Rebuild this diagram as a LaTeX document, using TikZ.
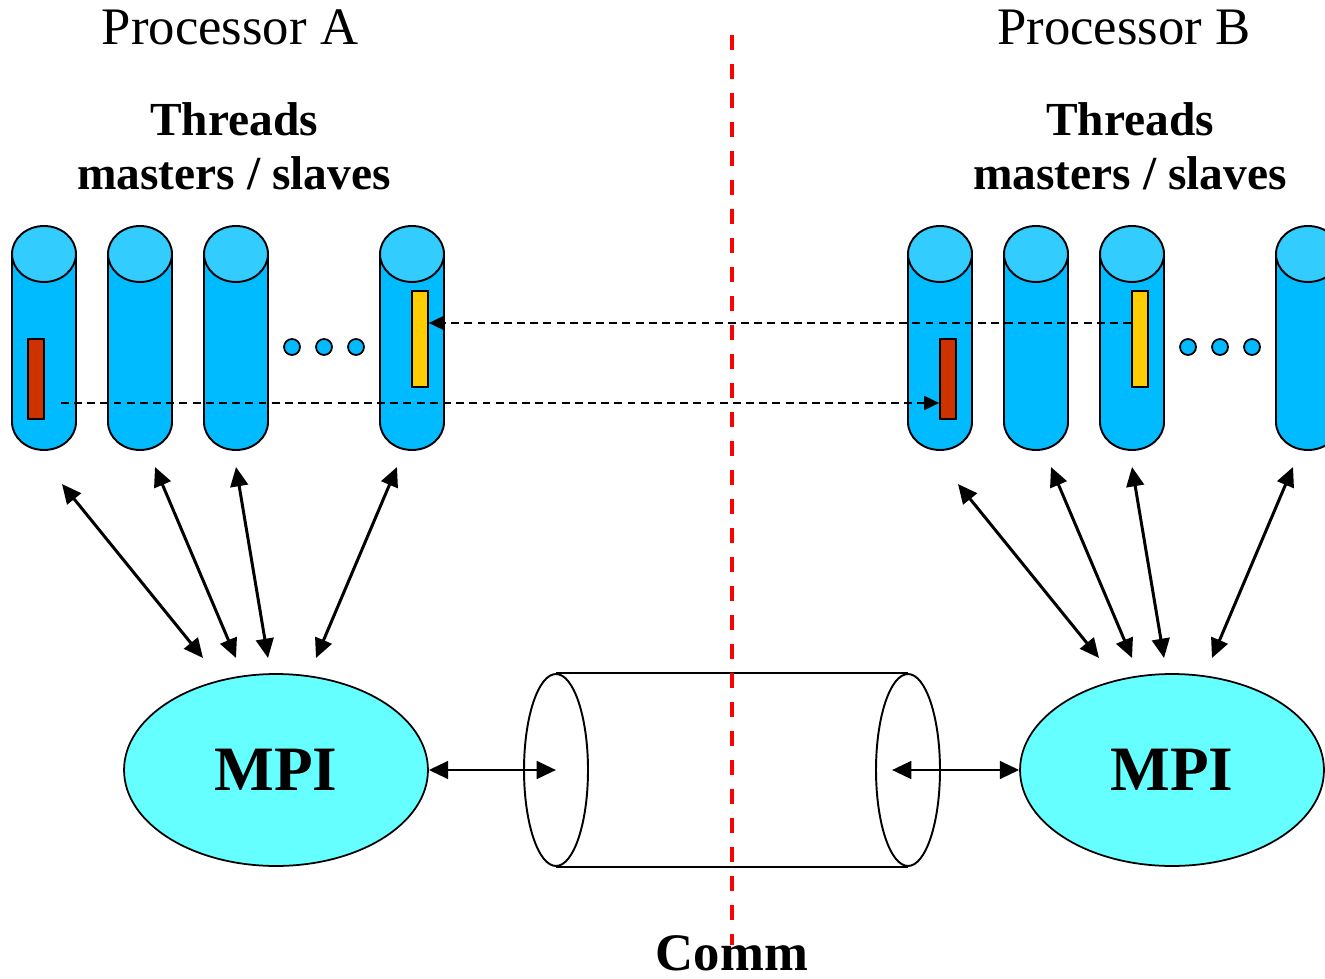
\documentclass[tikz,border=0pt]{standalone}
\usepackage{fontspec}
\setmainfont{Liberation Serif}
\usetikzlibrary{arrows.meta,calc,shapes.geometric}

\definecolor{threadbody}{HTML}{00BBFF}
\definecolor{threadtop}{HTML}{33CCFF}
\definecolor{mpifill}{HTML}{66FFFF}
\definecolor{sendred}{HTML}{CC3300}
\definecolor{recvyellow}{HTML}{FFCC00}

\tikzset{
  proc/.style={anchor=base, font={\fontsize{30}{36}\selectfont}},
  head/.style={anchor=base, font={\bfseries\fontsize{27}{32}\selectfont}},
  mpi/.style={ellipse, draw, line width=1pt, fill=mpifill, minimum width=6.08cm, minimum height=3.84cm, inner sep=0pt, font={\bfseries\fontsize{36}{40}\selectfont}},
  pipeend/.style={ellipse, draw, line width=1.1pt, minimum width=1.28cm, minimum height=3.84cm, inner sep=0pt},
  msg/.style={draw, line width=1pt, minimum width=0.32cm, inner sep=0pt},
  dot/.style={circle, draw, line width=1pt, fill=threadbody, minimum size=0.32cm, inner sep=0pt},
  link/.style={{Triangle[length=11pt,width=10pt]}-{Triangle[length=11pt,width=10pt]}, line width=1.7pt},
  send/.style={-{Triangle[length=8.5pt,width=8pt]}, dash pattern=on 4.5pt off 3pt, line width=0.8pt},
  cut/.style={draw=red, line width=2.3pt, dash pattern=on 8.5pt off 8pt}
}

% one thread: #1 name, #2 left edge
\newcommand{\thread}[2]{%
  \filldraw[fill=threadbody, line width=1.1pt] (#2+32,422) ellipse [x radius=32, y radius=28];
  \fill[threadbody] (#2,254) rectangle (#2+64,422);
  \draw[line width=1.1pt] (#2,254) -- (#2,422) (#2+64,254) -- (#2+64,422);
  \filldraw[fill=threadtop, line width=1.1pt] (#2+32,254) ellipse [x radius=32, y radius=28];
  \coordinate (#1) at (#2+32,338);
}

\begin{document}
\begin{tikzpicture}[x=0.02cm, y=-0.02cm]
\useasboundingbox (0,0) rectangle (1325,979);

% processors
\node[proc] (procA) at (230,45) {Processor A};
\node[proc] (procB) at (1124,45) {Processor B};
\foreach \s/\dx in {A/0,B/896} {
  \node[head] (threads\s) at (234+\dx,136) {Threads};
  \node[head] (roles\s) at (234+\dx,190) {masters / slaves};
  \foreach \n/\x in {1/12,2/108,3/204,4/380}
    \thread{th\s\n}{\x+\dx};
  \foreach \x in {292,324,356}
    \node[dot] (dot\s\x) at (\x+\dx,347) {};
  \node[mpi] (mpi\s) at (276+\dx,770) {MPI};
  \coordinate (up\s1) at (62+\dx,484);
  \coordinate (up\s2) at (155+\dx,467);
  \coordinate (up\s3) at (236+\dx,467);
  \coordinate (up\s4) at (397+\dx,467);
  \draw[link] (up\s1) -- ($(mpi\s)+(-73,-112)$);
  \draw[link] (up\s2) -- ($(mpi\s)+(-40,-112)$);
  \draw[link] (up\s3) -- ($(mpi\s)+(-8,-112)$);
  \draw[link] (up\s4) -- ($(mpi\s)+(40,-112)$);
}

% messages
\node[msg, fill=sendred, minimum height=1.6cm] (sendA) at (36,379) {};
\node[msg, fill=recvyellow, minimum height=1.92cm] (recvA) at (420,339) {};
\node[msg, fill=sendred, minimum height=1.6cm] (recvB) at (948,379) {};
\node[msg, fill=recvyellow, minimum height=1.92cm] (sendB) at (1140,339) {};
\draw[send] ($(sendB.west)+(0,-16)$) -- ($(recvA.east)+(0,-16)$);
\draw[send] ($(sendA.east)+(16,24)$) -- ($(recvB.west)+(0,24)$);

% communication pipe
\node[pipeend] (pipeL) at (556,770) {};
\node[pipeend] (pipeR) at (908,770) {};
\draw[line width=1.1pt] (pipeL.north) -- (pipeR.north) (pipeL.south) -- (pipeR.south);
\draw[link] (mpiA.east) -- (pipeL.center);
\draw[link] ($(pipeR.center)+(-16,0)$) -- (mpiB.west);

\node[anchor=base, font={\bfseries\fontsize{30}{36}\selectfont}] (comm) at (732,970) {Comm};
\coordinate (cutTop) at (732,35);
\coordinate (cutBot) at (732,945);
\draw[cut] (cutTop) -- (cutBot);
\end{tikzpicture}
\end{document}
